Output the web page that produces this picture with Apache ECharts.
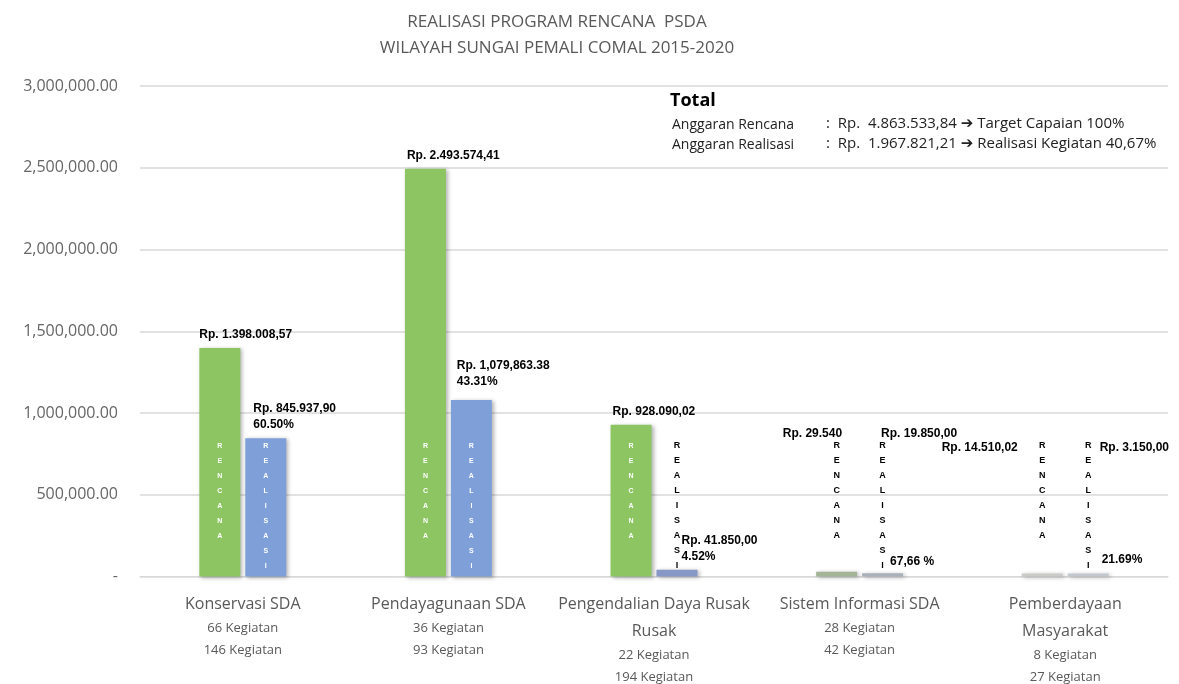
<!DOCTYPE html>
<html>
<head>
<meta charset="utf-8">
<title>Realisasi Program Rencana PSDA</title>
<script src="https://cdn.jsdelivr.net/npm/echarts@6/dist/echarts.min.js"></script>
<style>
  html, body { margin: 0; padding: 0; background: #fff; }
  #main { width: 1179px; height: 684px; }
</style>
</head>
<body>
<div id="main"></div>
<script>
// data per bidang
var kategori = ['Konservasi SDA', 'Pendayagunaan SDA', 'Pengendalian Daya Rusak\nRusak', 'Sistem Informasi SDA', 'Pemberdayaan\nMasyarakat'];
var kegiatan1 = ['66 Kegiatan', '36 Kegiatan', '22 Kegiatan', '28 Kegiatan', '8 Kegiatan'];
var kegiatan2 = ['146 Kegiatan', '93 Kegiatan', '194 Kegiatan', '42 Kegiatan', '27 Kegiatan'];
var rencana = [1398008.57, 2493574.41, 928090.02, 29540, 14510.02];
var realisasi = [845937.90, 1079863.38, 41850.00, 19850.00, 3150.00];
var teksRencana = ['Rp. 1.398.008,57', 'Rp. 2.493.574,41', 'Rp. 928.090,02', 'Rp. 29.540', 'Rp. 14.510,02'];
var teksRealisasi = ['Rp. 845.937,90', 'Rp. 1,079,863.38', 'Rp. 41.850,00', 'Rp. 19.850,00', 'Rp. 3.150,00'];
var persen = ['60.50%', '43.31%', '4.52%', '67,66 %', '21.69%'];
var yTicks = [0, 500000, 1000000, 1500000, 2000000, 2500000, 3000000];

// warna batang (yang kecil agak pudar seperti aslinya)
var warnaRencana = ['#8cc562', '#8cc562', '#8cc562', '#a3b596', '#c9cbc8'];
var warnaRealisasi = ['#7f9fd9', '#7f9fd9', '#8797c6', '#aab1bb', '#c3c7ce'];

// posisi label nilai relatif ke pojok kiri atas batang
var posRencana = [[0, -6], [2, -6], [2, -6], [26, -131], [-4, -119]];
var alignRencana = ['left', 'left', 'left', 'right', 'right'];
var posRealisasi = [[8, -6], [6, -10], [25, -5], [19, -148], [32, -136]];

function vertikal(kata) {
	return kata.split('').join('\n');
}

var chart = echarts.init(document.getElementById('main'));

var fontTeks = '"Open Sans", "Noto Sans", sans-serif';
var fontNilai = '"Liberation Sans", Arial, sans-serif';

option = {
	animation: false,
	title: {
		text: 'REALISASI PROGRAM RENCANA  PSDA\nWILAYAH SUNGAI PEMALI COMAL 2015-2020',
		left: 552,
		top: 4,
		textAlign: 'center',
		textStyle: {
			color: '#595959',
			fontSize: 17,
			fontWeight: 'normal',
			fontFamily: fontTeks,
			lineHeight: 26
		}
	},
	graphic: [
		{
			type: 'text',
			left: 670,
			top: 92,
			style: {
				text: 'Total',
				font: 'bold 18px "Open Sans", sans-serif',
				fill: '#000'
			}
		},
		{
			type: 'text',
			left: 672,
			top: 115,
			style: {
				text: 'Anggaran Rencana\nAnggaran Realisasi',
				font: '14px "Open Sans", sans-serif',
				lineHeight: 20,
				fill: '#222'
			}
		},
		{
			type: 'text',
			left: 826,
			top: 114,
			style: {
				text: ':  Rp.  4.863.533,84 \u2794 Target Capaian 100%\n:  Rp.  1.967.821,21 \u2794 Realisasi Kegiatan 40,67%',
				font: '15px "Open Sans", "DejaVu Sans", sans-serif',
				lineHeight: 20,
				fill: '#222'
			}
		}
	],
	grid: {
		left: 140,
		right: 11,
		top: 86,
		bottom: 106
	},
	xAxis: [
		{
			type: 'category',
			data: kategori,
			axisTick: { show: false },
			axisLine: { lineStyle: { color: '#d9d9d9' } },
			axisLabel: {
				interval: 0,
				margin: 14,
				formatter: function (v, i) {
					var nama = v.split('\n').map(function (s) { return '{n|' + s + '}'; }).join('\n');
					return nama + '\n{k|' + kegiatan1[i] + '}\n{k|' + kegiatan2[i] + '}';
				},
				rich: {
					n: { fontSize: 16, color: '#595959', fontFamily: fontTeks, lineHeight: 27 },
					k: { fontSize: 13, color: '#595959', fontFamily: fontTeks, lineHeight: 22 }
				}
			}
		},
		{
			type: 'category',
			data: kategori,
			show: false
		}
	],
	yAxis: {
		type: 'value',
		min: yTicks[0],
		max: yTicks[yTicks.length - 1],
		interval: yTicks[1] - yTicks[0],
		axisLine: { show: false },
		axisTick: { show: false },
		splitLine: { lineStyle: { color: '#d9d9d9', width: 1.5 } },
		axisLabel: {
			margin: 22,
			color: '#666666',
			fontSize: 16,
			fontFamily: fontTeks,
			formatter: function (v) {
				if (v === 0) return '-';
				return v.toLocaleString('en-US', { minimumFractionDigits: 2, maximumFractionDigits: 2 });
			}
		}
	},
	series: [
		{
			name: 'Rencana',
			type: 'bar',
			xAxisIndex: 0,
			barWidth: 41,
			barGap: '12%',
			barMinHeight: 3,
			itemStyle: {
				shadowBlur: 4,
				shadowColor: 'rgba(0,0,0,0.3)',
				shadowOffsetX: 2,
				shadowOffsetY: 1
			},
			label: {
				show: true,
				position: 'insideBottom',
				distance: 33,
				formatter: vertikal('RENCANA'),
				lineHeight: 15,
				fontWeight: 'bold',
				fontFamily: fontNilai
			},
			data: rencana.map(function (v, i) {
				return {
					value: v,
					itemStyle: { color: warnaRencana[i] },
					label: { color: i < 3 ? '#ffffff' : '#000000', fontSize: i < 3 ? 7 : 9 }
				};
			})
		},
		{
			name: 'Realisasi',
			type: 'bar',
			xAxisIndex: 0,
			barWidth: 41,
			barGap: '12%',
			barMinHeight: 3,
			itemStyle: {
				shadowBlur: 4,
				shadowColor: 'rgba(0,0,0,0.3)',
				shadowOffsetX: 2,
				shadowOffsetY: 1
			},
			label: {
				show: true,
				position: 'insideBottom',
				distance: 3,
				formatter: vertikal('REALISASI'),
				lineHeight: 15,
				fontWeight: 'bold',
				fontFamily: fontNilai
			},
			data: realisasi.map(function (v, i) {
				return {
					value: v,
					itemStyle: { color: warnaRealisasi[i] },
					label: { color: i < 2 ? '#ffffff' : '#000000', fontSize: i < 2 ? 7 : 9 }
				};
			})
		},
		// label nilai (batang transparan di sumbu x kedua)
		{
			name: 'Nilai Rencana',
			type: 'bar',
			xAxisIndex: 1,
			barWidth: 41,
			barGap: '12%',
			silent: true,
			itemStyle: { color: 'rgba(0,0,0,0)' },
			label: {
				show: true,
				fontSize: 12,
				fontWeight: 'bold',
				color: '#000',
				fontFamily: fontNilai,
				verticalAlign: 'bottom',
				lineHeight: 14
			},
			data: rencana.map(function (v, i) {
				return {
					value: v,
					label: {
						position: posRencana[i],
						align: alignRencana[i],
						formatter: teksRencana[i]
					}
				};
			})
		},
		{
			name: 'Nilai Realisasi',
			type: 'bar',
			xAxisIndex: 1,
			barWidth: 41,
			barGap: '12%',
			silent: true,
			itemStyle: { color: 'rgba(0,0,0,0)' },
			label: {
				show: true,
				fontSize: 12,
				fontWeight: 'bold',
				color: '#000',
				fontFamily: fontNilai,
				align: 'left',
				lineHeight: 16,
				rich: {
					p: { fontSize: 12, fontWeight: 'bold', color: '#000', fontFamily: fontNilai, padding: [0, 0, 0, 9] },
					q: { fontSize: 12, fontWeight: 'bold', color: '#000', fontFamily: fontNilai, padding: [0, 0, 0, 2] }
				}
			},
			data: realisasi.map(function (v, i) {
				var teks, va;
				if (i < 3) {
					teks = teksRealisasi[i] + '\n' + persen[i];
					va = 'bottom';
				} else if (i === 3) {
					// persen jauh di bawah, dekat batang kecil
					teks = teksRealisasi[i] + '\n\n\n\n\n\n\n\n{p|' + persen[i] + '}';
					va = 'top';
				} else {
					teks = teksRealisasi[i] + '\n\n\n\n\n\n\n{q|' + persen[i] + '}';
					va = 'top';
				}
				return {
					value: v,
					label: {
						position: posRealisasi[i],
						verticalAlign: va,
						formatter: teks
					}
				};
			})
		}
	]
};

chart.setOption(option);
</script>
</body>
</html>
